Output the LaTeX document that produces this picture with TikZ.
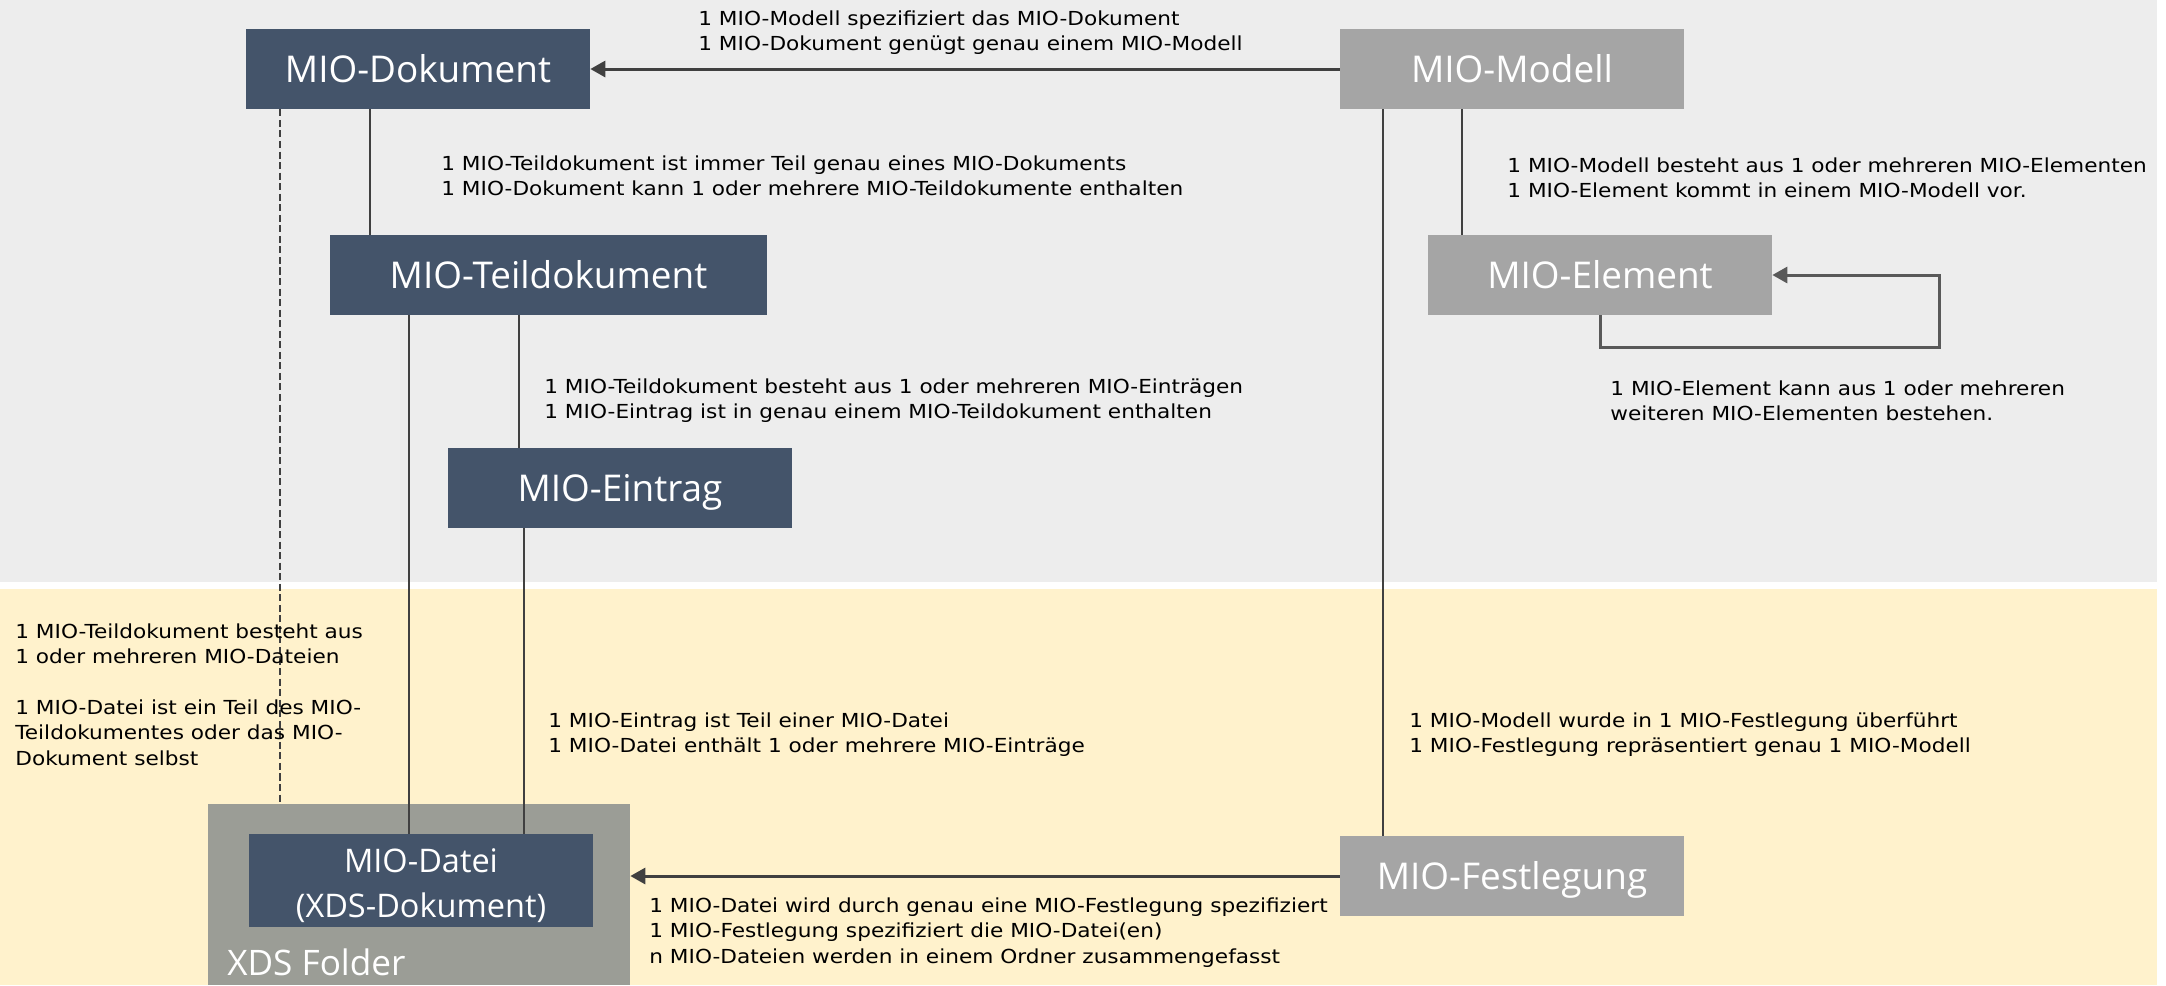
\documentclass[tikz,border=0pt]{standalone}
\usepackage{fontspec}
\setmainfont{Open Sans}
\newfontfamily\notefont[FakeStretch=1.12]{DejaVu Sans}
\usetikzlibrary{arrows.meta}
\definecolor{boxdark}{HTML}{44546A}
\definecolor{boxgray}{HTML}{A5A5A5}
\definecolor{foldergray}{HTML}{9B9D96}
\definecolor{bandgray}{HTML}{EDEDED}
\definecolor{bandyellow}{HTML}{FFF2CC}
\definecolor{linegray}{HTML}{404040}
\definecolor{loopgray}{HTML}{595959}

\begin{document}
\begin{tikzpicture}[x=0.02cm, y=-0.02cm]
\tikzset{mio/.style = {shape=rectangle, fill=boxdark, text=white, minimum width=6.88cm, minimum height=1.6cm, inner sep=0pt, text height=20pt, text depth=4.8pt, font=\fontsize{21}{25}\selectfont}}
    \tikzset{spec/.style = {mio, fill=boxgray}}
    \tikzset{note/.style = {anchor=north west, inner sep=0pt, align=left, font=\notefont\fontsize{11}{14.5}\selectfont}}
    \tikzset{link/.style = {draw=linegray, line width=1.1pt}}
    \tikzset{pointer/.style = {draw=linegray, line width=1.7pt, -{Triangle[length=0.3cm, width=0.32cm]}}}
\useasboundingbox (0,0) rectangle (2166,985);
% Background bands
\fill[bandgray] (0,0) rectangle (2157,582);
\fill[bandyellow] (0,589) rectangle (2157,985);

% Folder and boxes
\node[fill=foldergray, minimum width=8.44cm, minimum height=3.62cm, inner sep=0pt] (folder) at (419,894.5) {};
\node[anchor=base west, inner sep=0pt, text=white, font=\fontsize{20}{23}\selectfont] (foldername) at (227,975) {XDS Folder};
\node[mio] (dokument) at (418,69) {MIO-Dokument};
\node[mio, minimum width=8.74cm] (teil) at (548.5,275) {MIO-Teildokument};
\node[mio] (eintrag) at (620,488) {MIO-Eintrag};
\node[mio, minimum height=1.86cm, label={[text=white, align=center, yshift=-0.1cm, font=\fontsize{18.5}{26}\selectfont]center:MIO-Datei\\(XDS-Dokument)}] (datei) at (421,880.5) {};
\node[spec] (modell) at (1512,69) {MIO-Modell};
\node[spec] (element) at (1600,275) {MIO-Element};
\node[spec] (festlegung) at (1512,876) {MIO-Festlegung};

% Connectors
\draw[pointer] (modell.west) -- (dokument.east);
\draw[pointer] (festlegung.west) -- (folder.east |- festlegung.west);
\draw[link] ([xshift=2.48cm]dokument.south west) -- ([xshift=2.48cm]dokument.south west |- teil.north);
\draw[link, dash pattern=on 4pt off 2pt] ([xshift=0.68cm]dokument.south west) -- ([xshift=0.68cm]dokument.south west |- folder.north);
\draw[link] ([xshift=1.58cm]teil.south west) -- ([xshift=1.58cm]teil.south west |- datei.north);
\draw[link] ([xshift=3.78cm]teil.south west) -- ([xshift=3.78cm]teil.south west |- eintrag.north);
\draw[link] ([xshift=1.52cm]eintrag.south west) -- ([xshift=1.52cm]eintrag.south west |- datei.north);
\draw[link] ([xshift=0.86cm]modell.south west) -- ([xshift=0.86cm]modell.south west |- festlegung.north);
\draw[link] ([xshift=2.44cm]modell.south west) -- ([xshift=2.44cm]modell.south west |- element.north);
\draw[pointer, draw=loopgray] (element.south) -- ++(0,32) -| ([xshift=3.34cm]element.east) -- (element.east);

% Notes
\node[note] (n1) at (698,10) {1 MIO-Modell spezifiziert das MIO-Dokument\\1 MIO-Dokument genügt genau einem MIO-Modell};
\node[note] (n2) at (441,155) {1 MIO-Teildokument ist immer Teil genau eines MIO-Dokuments\\1 MIO-Dokument kann 1 oder mehrere MIO-Teildokumente enthalten};
\node[note] (n3) at (1507,157) {1 MIO-Modell besteht aus 1 oder mehreren MIO-Elementen\\1 MIO-Element kommt in einem MIO-Modell vor.};
\node[note] (n4) at (1610,380) {1 MIO-Element kann aus 1 oder mehreren\\weiteren MIO-Elementen bestehen.};
\node[note] (n5) at (544,378) {1 MIO-Teildokument besteht aus 1 oder mehreren MIO-Einträgen\\1 MIO-Eintrag ist in genau einem MIO-Teildokument enthalten};
\node[note] (n6) at (15,623) {1 MIO-Teildokument besteht aus\\1 oder mehreren MIO-Dateien\\[14.5pt]1 MIO-Datei ist ein Teil des MIO-\\Teildokumentes oder das MIO-\\Dokument selbst};
\node[note] (n7) at (548,712) {1 MIO-Eintrag ist Teil einer MIO-Datei\\1 MIO-Datei enthält 1 oder mehrere MIO-Einträge};
\node[note] (n8) at (1409,712) {1 MIO-Modell wurde in 1 MIO-Festlegung überführt\\1 MIO-Festlegung repräsentiert genau 1 MIO-Modell};
\node[note] (n9) at (649,897) {1 MIO-Datei wird durch genau eine MIO-Festlegung spezifiziert\\1 MIO-Festlegung spezifiziert die MIO-Datei(en)\\n MIO-Dateien werden in einem Ordner zusammengefasst};
\end{tikzpicture}
\end{document}
